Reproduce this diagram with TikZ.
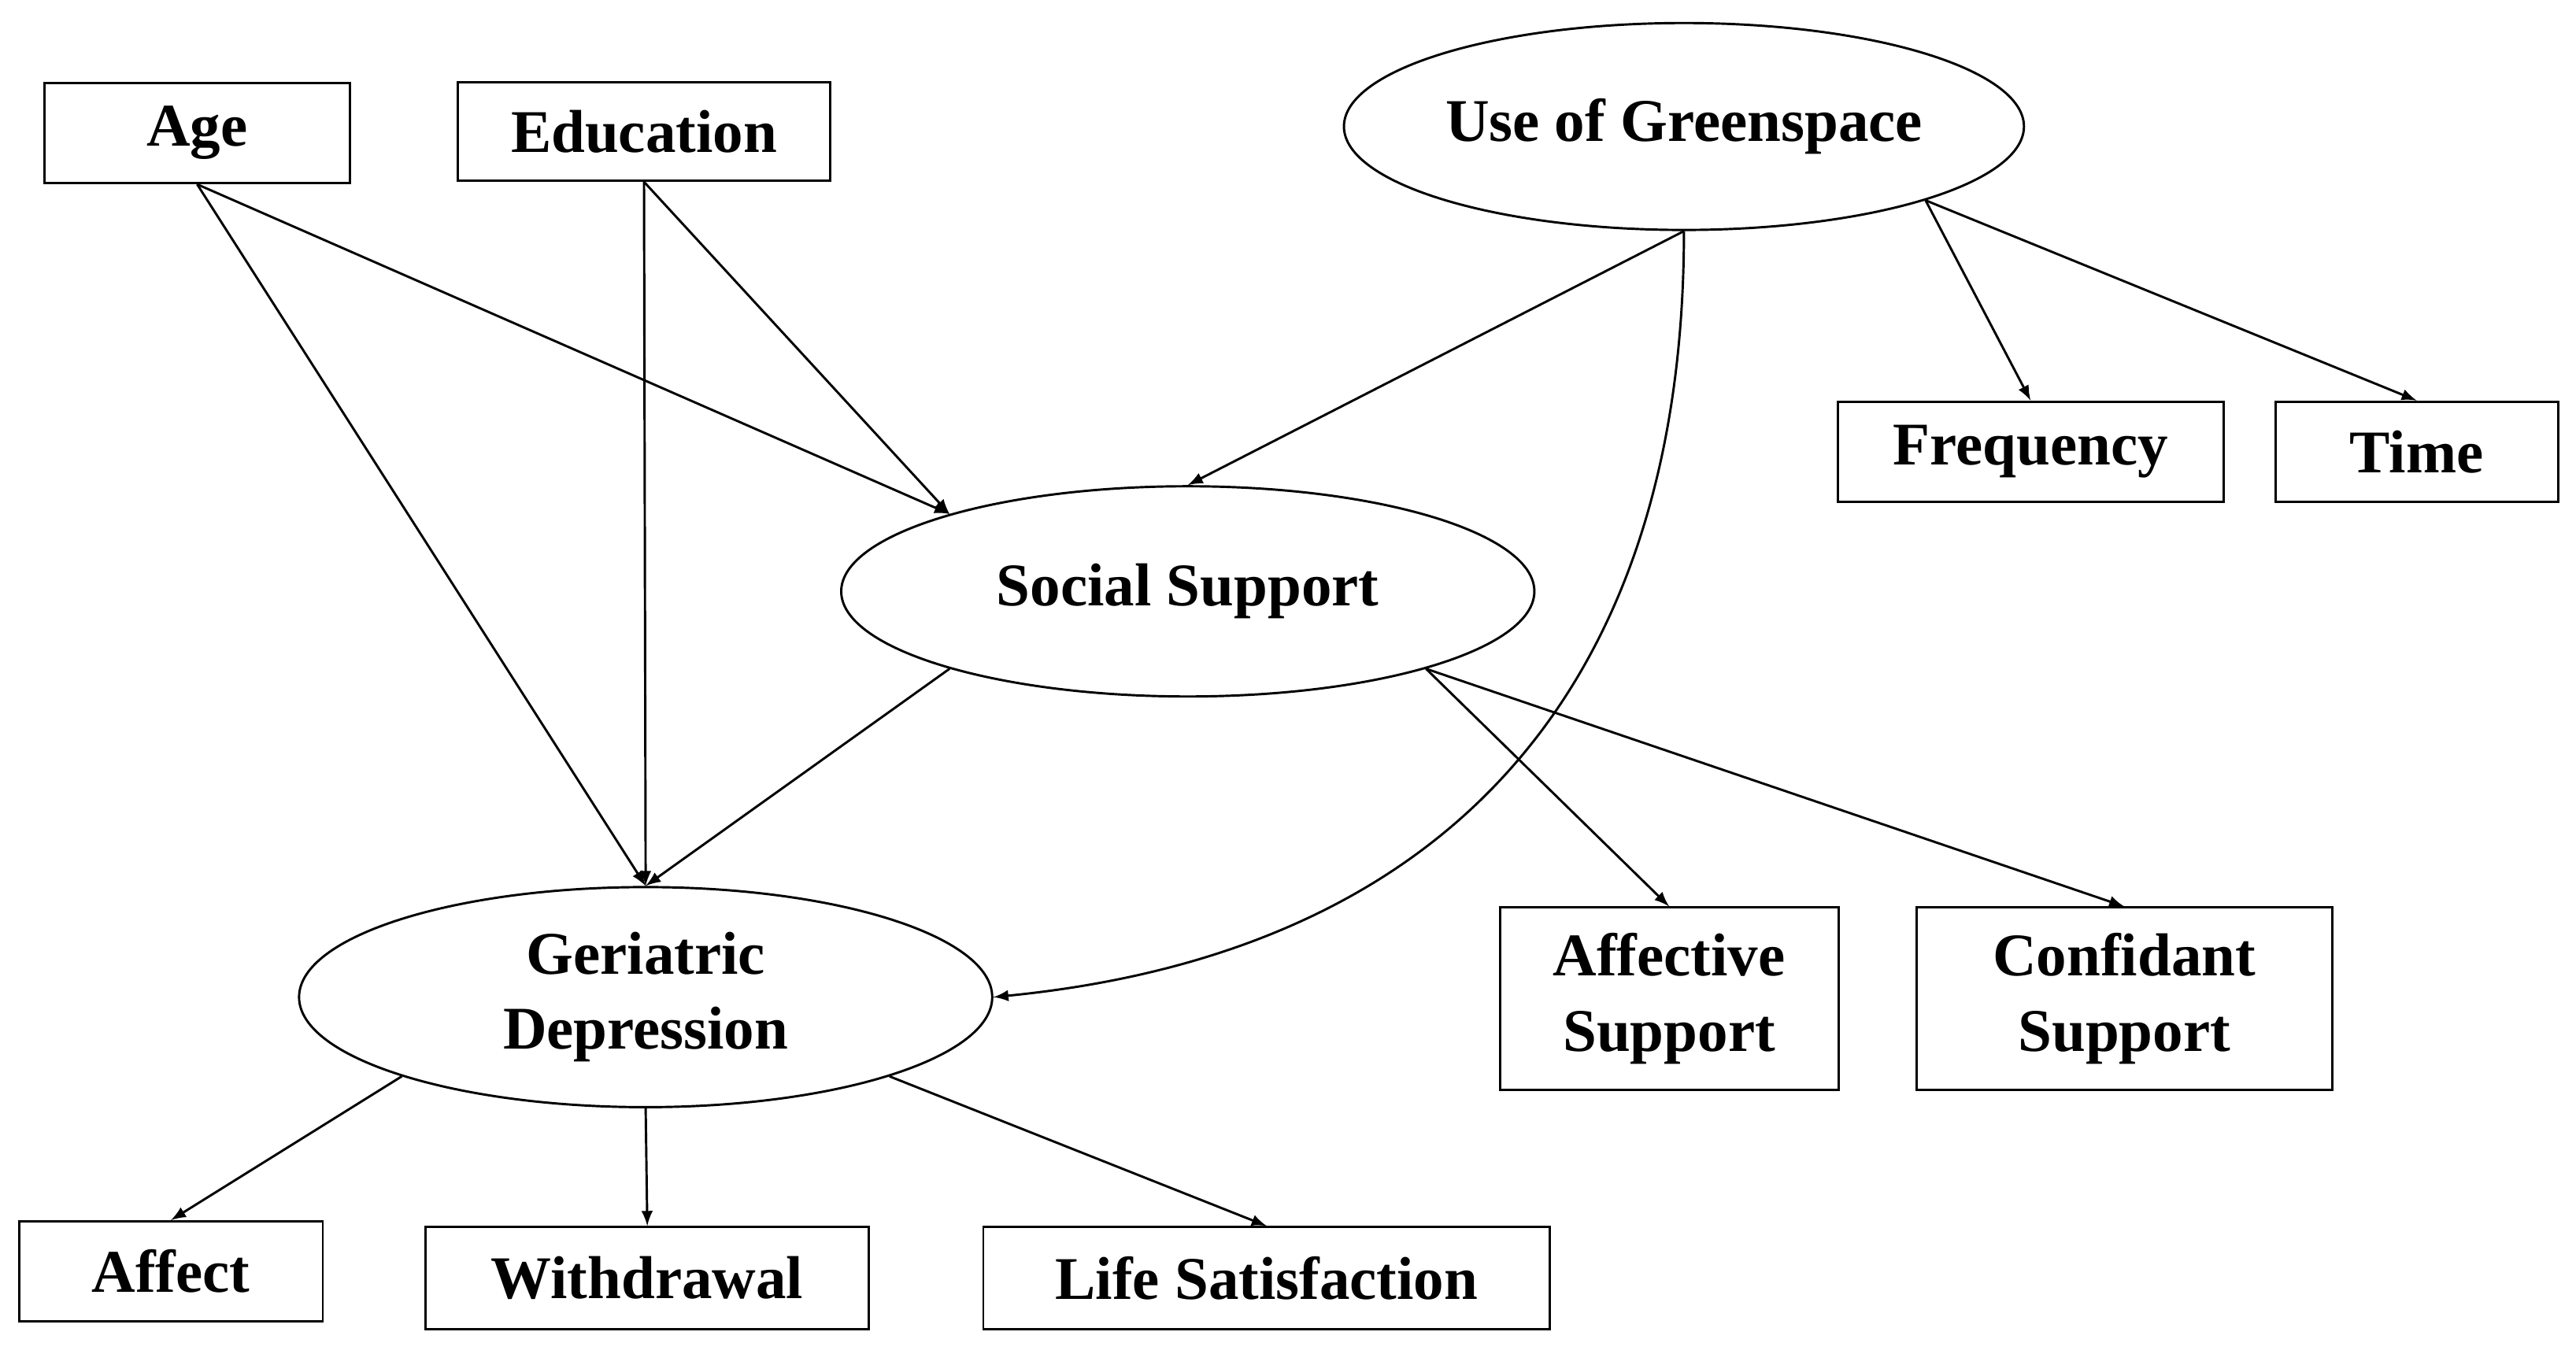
\documentclass[tikz,border=0pt]{standalone}
\usepackage{fontspec}
\setmainfont{Liberation Serif}
\usetikzlibrary{arrows, positioning, shapes.geometric}
\tikzset{
  box/.style={draw, thick, rectangle, inner sep=0pt, align=center, font=\bfseries\fontsize{21}{26}\selectfont},
  oval/.style={draw, thick, ellipse, inner sep=0pt, align=center, font=\bfseries\fontsize{21}{26}\selectfont},
  link/.style={thick, ->, >=latex}
}
\begin{document}
\begin{tikzpicture}[x=0.02cm, y=-0.02cm]
\useasboundingbox (0,0) rectangle (1568,824);
%top row
\node[box, minimum width=3.72cm, minimum height=1.22cm] (age) at (120,81) {Age};
\node[box, minimum width=4.54cm, minimum height=1.2cm] (edu) at (392,80) {Education};
\node[oval, minimum width=8.28cm, minimum height=2.52cm] (green) at (1025,77) {Use of Greenspace};
\node[box, minimum width=4.7cm, minimum height=1.22cm] (freq) at (1236,275) {Frequency};
\node[box, minimum width=3.44cm, minimum height=1.22cm] (time) at (1471,275) {Time};
%middle
\node[oval, minimum width=8.44cm, minimum height=2.56cm] (social) at (723,360) {Social Support};
\node[oval, minimum width=8.44cm, minimum height=2.68cm] (depr) at (393,607) {Geriatric\\Depression};
\node[box, minimum width=4.12cm, minimum height=2.22cm] (affsup) at (1016,608) {Affective\\Support};
\node[box, minimum width=5.06cm, minimum height=2.22cm] (confsup) at (1293,608) {Confidant\\Support};
%bottom row
\node[box, minimum width=3.7cm, minimum height=1.22cm] (affect) at (104,774) {Affect};
\node[box, minimum width=5.4cm, minimum height=1.24cm] (withdr) at (394,778) {Withdrawal};
\node[box, minimum width=6.9cm, minimum height=1.24cm] (lifesat) at (771,778) {Life Satisfaction};
%arrows
\draw[link] (age.south) -- (depr.north);
\draw[link] (age.south) -- (social.162);
\draw[link] (edu.south) -- (depr.north);
\draw[link] (edu.south) -- (social.162);
\draw[link] (green.south) -- (social.north);
\draw[link] (green.south) .. controls (1025,420) and (880,580) .. (depr.east);
\draw[link] (green.-17) -- (freq.north);
\draw[link] (green.-17) -- (time.north);
\draw[link] (social.198) -- (depr.north);
\draw[link] (social.-18) -- (affsup.north);
\draw[link] (social.-18) -- (confsup.north);
\draw[link] (depr.198) -- (affect.north);
\draw[link] (depr.south) -- (withdr.north);
\draw[link] (depr.-18) -- (lifesat.north);
\end{tikzpicture}
\end{document}
